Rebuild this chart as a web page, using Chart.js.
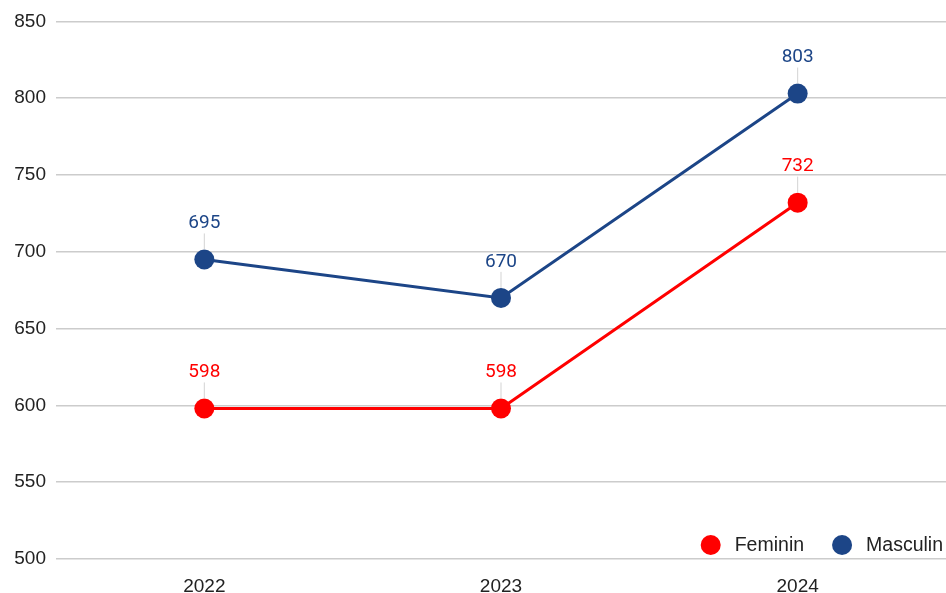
<!DOCTYPE html>
<html>
<head>
<meta charset="utf-8">
<script src="https://cdn.jsdelivr.net/npm/chart.js@4.4.1/dist/chart.umd.min.js"></script>
<style>
  html, body { margin: 0; padding: 0; background: #fff; }
  #wrap { width: 946px; height: 593px; position: relative; }
</style>
</head>
<body>
<div id="wrap"><canvas id="line-chart"></canvas></div>
<script>
// data
var years = ["2022", "2023", "2024"];
var feminin = [598, 598, 732];
var masculin = [695, 670, 803];
var yTicks = [500, 550, 600, 650, 700, 750, 800, 850];

var red = "#ff0000";
var blue = "#1c4587";
var AXIS_FONT = "'Liberation Sans', Arial, sans-serif";
var LABEL_FONT = "Roboto, 'Liberation Sans', Arial, sans-serif";

// value labels above points with thin grey leader lines
var valueLabels = {
  id: "valueLabels",
  afterDatasetsDraw: function(chart) {
    var ctx = chart.ctx;
    ctx.save();
    chart.data.datasets.forEach(function(ds, i) {
      var meta = chart.getDatasetMeta(i);
      meta.data.forEach(function(pt, j) {
        ctx.strokeStyle = "rgba(200,200,200,0.8)";
        ctx.lineWidth = 1;
        ctx.beginPath();
        ctx.moveTo(pt.x, pt.y - 26);
        ctx.lineTo(pt.x, pt.y - 10);
        ctx.stroke();
        ctx.fillStyle = ds.borderColor;
        ctx.font = "19px " + LABEL_FONT;
        ctx.textAlign = "center";
        ctx.textBaseline = "middle";
        ctx.fillText(ds.data[j], pt.x, pt.y - 36);
      });
    });
    ctx.restore();
  }
};

// legend drawn at bottom right inside the plot
var cornerLegend = {
  id: "cornerLegend",
  afterDraw: function(chart) {
    var ctx = chart.ctx;
    var y = 545;
    var x = chart.chartArea.right - 3;
    ctx.save();
    ctx.font = "19.5px " + AXIS_FONT;
    ctx.textBaseline = "middle";
    ctx.textAlign = "left";
    var ds = chart.data.datasets.slice().reverse();
    ds.forEach(function(d) {
      var w = ctx.measureText(d.label).width;
      x -= w;
      ctx.fillStyle = "#222";
      ctx.fillText(d.label, x, y + 1);
      x -= 24;
      ctx.fillStyle = d.borderColor;
      ctx.beginPath();
      ctx.arc(x, y, 10, 0, Math.PI * 2);
      ctx.fill();
      x -= 10 + 28;
    });
    ctx.restore();
  }
};

new Chart("line-chart", {
  type: "line",
  data: {
    labels: years,
    datasets: [
      {
        label: "Feminin",
        data: feminin,
        borderColor: red,
        backgroundColor: red,
        borderWidth: 3,
        pointRadius: 10,
        pointHoverRadius: 10,
        pointBorderWidth: 0
      },
      {
        label: "Masculin",
        data: masculin,
        borderColor: blue,
        backgroundColor: blue,
        borderWidth: 3,
        pointRadius: 10,
        pointHoverRadius: 10,
        pointBorderWidth: 0
      }
    ]
  },
  options: {
    responsive: true,
    maintainAspectRatio: false,
    animation: false,
    layout: { autoPadding: false, padding: { top: 19, right: 0, left: 0, bottom: 0 } },
    plugins: {
      legend: { display: false },
      tooltip: { enabled: false }
    },
    scales: {
      x: {
        offset: true,
        grid: { display: false },
        border: { display: false },
        ticks: { color: "#222", font: { family: AXIS_FONT, size: 19 }, padding: 8 },
        afterFit: function(s) { s.height = 34; }
      },
      y: {
        min: 500,
        max: 850,
        afterBuildTicks: function(s) {
          s.ticks = yTicks.map(function(v) { return { value: v }; });
        },
        grid: { color: "#cccccc", lineWidth: 1.5, drawTicks: false },
        border: { display: false },
        ticks: { color: "#222", font: { family: AXIS_FONT, size: 19 }, padding: 10 },
        afterFit: function(s) { s.width = 56; }
      }
    }
  },
  plugins: [valueLabels, cornerLegend]
});
</script>
</body>
</html>
